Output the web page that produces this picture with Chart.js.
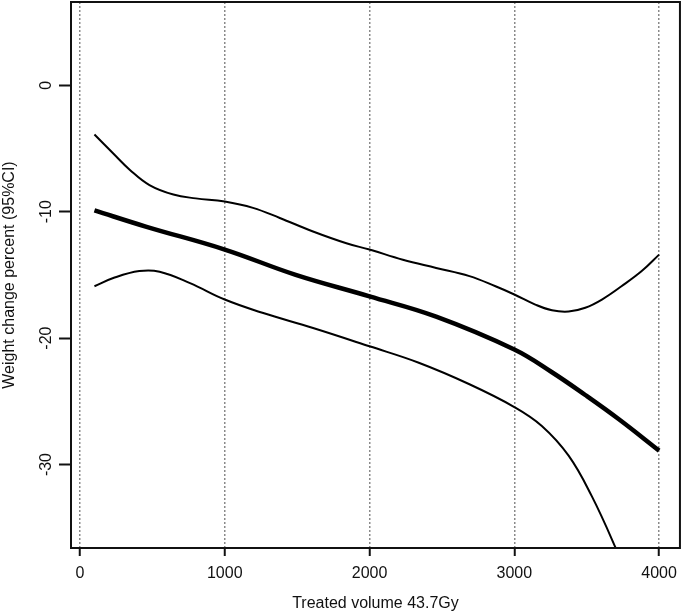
<!DOCTYPE html>
<html>
<head>
<meta charset="utf-8">
<script src="https://cdn.jsdelivr.net/npm/chart.js@4.4.1/dist/chart.umd.min.js"></script>
<style>
  html, body { margin: 0; padding: 0; background: #fff; }
  #wrap { width: 685px; height: 615px; }
</style>
</head>
<body>
<div id="wrap"><canvas id="myChart" width="685" height="615"></canvas></div>
<script>
// treated volume (x) and weight change (y)
let fitX = [100, 460, 1000, 1490, 2000, 2460, 3000, 3260, 3490, 3720, 4000];
let fitY = [-9.9, -11.2, -13.0, -15.0, -16.7, -18.3, -20.9, -22.7, -24.5, -26.4, -28.9];

let upperX = [100, 230, 345, 480, 645, 800, 1000, 1195, 1380, 1605, 1840, 2000, 2230, 2460, 2690, 2870, 3000, 3145, 3260, 3375, 3490, 3605, 3740, 3880, 4000];
let upperY = [-3.9, -5.4, -6.7, -7.9, -8.65, -8.95, -9.2, -9.7, -10.5, -11.55, -12.5, -13.0, -13.8, -14.45, -15.1, -15.9, -16.55, -17.35, -17.8, -17.9, -17.6, -16.95, -15.9, -14.7, -13.4];

let lowerX = [100, 230, 410, 550, 760, 1000, 1260, 1610, 2000, 2340, 2690, 3000, 3190, 3375, 3535, 3700, 3760];
let lowerY = [-15.9, -15.25, -14.7, -14.75, -15.65, -16.95, -18.0, -19.2, -20.65, -21.95, -23.65, -25.45, -26.95, -29.3, -32.5, -36.6, -38.4];

let xTicks = [0, 1000, 2000, 3000, 4000];
let yTicks = [-30, -20, -10, 0];

function pts(xs, ys) {
    return xs.map((x, i) => ({ x: x, y: ys[i] }));
}

const FONT = 'Liberation Sans, Arial, sans-serif';
const FS = 16;

// box around the plot + rotated y labels, R style
const rStyle = {
    id: 'rStyle',
    afterDraw(chart) {
        const ctx = chart.ctx;
        const a = chart.chartArea;
        ctx.save();
        ctx.strokeStyle = '#111';
        ctx.lineWidth = 2;
        ctx.strokeRect(a.left, a.top, a.right - a.left, a.bottom - a.top);
        const ys = chart.scales.y;
        ctx.fillStyle = '#111';
        ctx.font = FS + 'px ' + FONT;
        ctx.textAlign = 'center';
        ctx.textBaseline = 'middle';
        yTicks.forEach(v => {
            ctx.save();
            ctx.translate(47, ys.getPixelForValue(v));
            ctx.rotate(-Math.PI / 2);
            ctx.fillText(String(v), 0, 0);
            ctx.restore();
        });
        ctx.restore();
    }
};

const ctx = document.getElementById('myChart').getContext('2d');
const myChart = new Chart(ctx, {
    type: 'scatter',
    data: {
        datasets: [
            {
                label: 'fit',
                data: pts(fitX, fitY),
                showLine: true,
                borderColor: '#000',
                borderWidth: 4.5,
                pointRadius: 0,
                tension: 0.4
            },
            {
                label: 'upper',
                data: pts(upperX, upperY),
                showLine: true,
                borderColor: '#000',
                borderWidth: 2,
                pointRadius: 0,
                tension: 0.4
            },
            {
                label: 'lower',
                data: pts(lowerX, lowerY),
                showLine: true,
                borderColor: '#000',
                borderWidth: 2,
                pointRadius: 0,
                tension: 0.4
            }
        ]
    },
    options: {
        responsive: false,
        animation: false,
        layout: { padding: { top: 2, right: 3, left: 0, bottom: 0 } },
        plugins: {
            legend: { display: false },
            tooltip: { enabled: false }
        },
        scales: {
            x: {
                type: 'linear',
                min: -62,
                max: 4144,
                afterBuildTicks: s => { s.ticks = xTicks.map(v => ({ value: v })); },
                afterFit: s => { s.height = 67; },
                grid: {
                    color: '#8a8a8a',
                    lineWidth: 1.5,
                    tickLength: 8,
                    tickColor: '#111',
                    tickWidth: 2,
                    tickBorderDash: []
                },
                border: { display: false, dash: [2, 2] },
                ticks: {
                    color: '#111',
                    font: { family: FONT, size: FS },
                    padding: 8,
                    maxRotation: 0,
                    callback: v => String(v)
                },
                title: {
                    display: true,
                    text: 'Treated volume 43.7Gy',
                    color: '#111',
                    font: { family: FONT, size: FS },
                    padding: { top: 0, bottom: 2 }
                }
            },
            y: {
                min: -36.6,
                max: 6.58,
                afterBuildTicks: s => { s.ticks = yTicks.map(v => ({ value: v })); },
                afterFit: s => { s.width = 71; },
                grid: {
                    drawOnChartArea: false,
                    tickLength: 12,
                    tickColor: '#111',
                    tickWidth: 2
                },
                border: { display: false },
                ticks: { display: false },
                title: {
                    display: true,
                    text: 'Weight change percent (95%CI)',
                    color: '#111',
                    font: { family: FONT, size: FS },
                    padding: { top: 0, bottom: 0 }
                }
            }
        }
    },
    plugins: [rStyle]
});
</script>
</body>
</html>
